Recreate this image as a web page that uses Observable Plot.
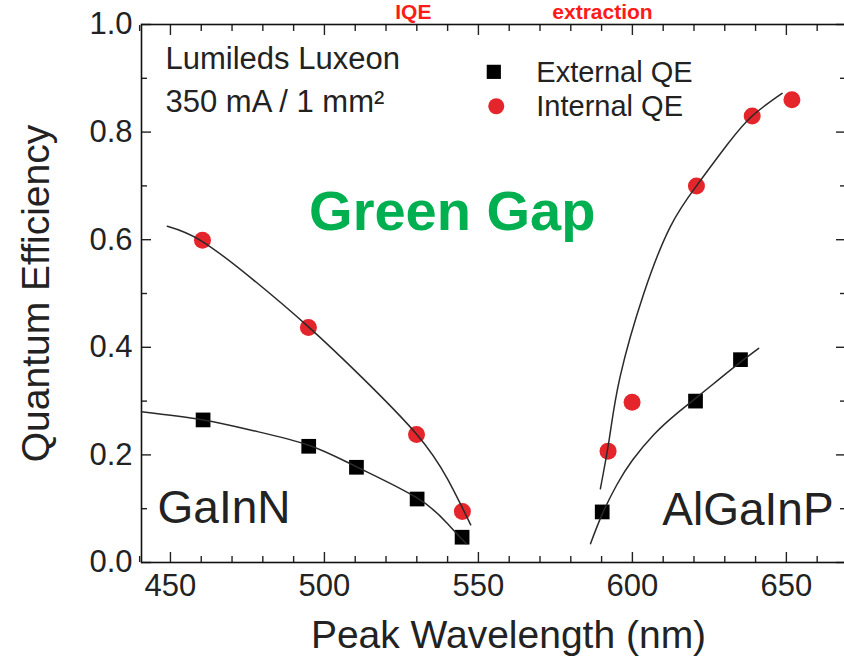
<!DOCTYPE html>
<html><head><meta charset="utf-8">
<script src="https://cdn.jsdelivr.net/npm/d3@7"></script>
<script src="https://cdn.jsdelivr.net/npm/@observablehq/plot@0.6"></script>
<style>html,body{margin:0;padding:0;overflow:hidden;background:#fff}</style>
</head><body><div id="chart"></div>
<script>
// ---- measured points (wavelength nm, quantum efficiency) ----
const gainnIqeWl = [460.4, 494.8, 529.9, 544.8];
const gainnIqeQe = [0.599, 0.437, 0.238, 0.095];
const gainnEqeWl = [460.6, 494.9, 510.4, 530.1, 544.7];
const gainnEqeQe = [0.265, 0.216, 0.177, 0.118, 0.047];
const algainpIqeWl = [592.1, 599.9, 620.8, 638.9, 651.8];
const algainpIqeQe = [0.207, 0.298, 0.700, 0.830, 0.860];
const algainpEqeWl = [590.2, 620.5, 635.1];
const algainpEqeQe = [0.094, 0.300, 0.377];

// ---- fitted guide curves ----
const fitGainnIqeWl = [449, 460, 477, 495, 512, 530, 540, 547.5];
const fitGainnIqeQe = [0.625, 0.598, 0.525, 0.437, 0.345, 0.238, 0.155, 0.070];
const fitGainnEqeWl = [440.6, 460.6, 477, 494.9, 510.4, 530.1, 540, 546];
const fitGainnEqeQe = [0.280, 0.265, 0.245, 0.218, 0.178, 0.120, 0.072, 0.035];
const fitAlgainpIqeWl = [589.6, 592.5, 596, 603.7, 612.3, 620.8, 630.7, 638.9, 648.6];
const fitAlgainpIqeQe = [0.137, 0.230, 0.345, 0.500, 0.624, 0.700, 0.776, 0.830, 0.872];
const fitAlgainpEqeWl = [586.4, 590.2, 595, 600, 607, 614, 620.5, 628, 635, 641];
const fitAlgainpEqeQe = [0.035, 0.090, 0.145, 0.190, 0.238, 0.275, 0.305, 0.340, 0.372, 0.398];

// ---- axes ----
const xTicks = [450, 500, 550, 600, 650];
const xMinorTicks = [440, 460, 470, 480, 490, 510, 520, 530, 540, 560, 570, 580, 590, 610, 620, 630, 640, 660];
const yTicks = [0, 0.2, 0.4, 0.6, 0.8, 1.0];
const yMinorTicks = [0.1, 0.3, 0.5, 0.7, 0.9];
const xTitle = "Peak Wavelength (nm)";
const yTitle = "Quantum Efficiency";

// ---- annotations (data coordinates) ----
const notes = [
  {text: "Lumileds Luxeon", x: 448.4, y: 0.917},
  {text: "350 mA / 1 mm²", x: 448.4, y: 0.837}
];
const materials = [
  {text: "GaInN", x: 445.8, y: 0.073},
  {text: "AlGaInP", x: 609.7, y: 0.069}
];
const gapLabel = [{text: "Green Gap", x: 541.5, y: 0.618}];
const topLabels = [
  {text: "IQE", x: 523.0, y: 1.01},
  {text: "extraction", x: 574.0, y: 1.01}
];
const legendItems = [
  {text: "External QE", symbol: "square", color: "#000000", x: 555.0, y: 0.912, tx: 568.8, ty: 0.893},
  {text: "Internal QE", symbol: "circle", color: "#e4252b", x: 555.8, y: 0.848, tx: 568.8, ty: 0.830}
];

const zip = (xs, ys) => xs.map((x, i) => ({x, y: ys[i]}));
const ink = "#222";
const font = "Liberation Sans, Arial, Helvetica, sans-serif";

const chart = Plot.plot({
  width: 846,
  height: 666,
  marginLeft: 141,
  marginRight: 1,
  marginTop: 24,
  marginBottom: 104,
  style: {fontFamily: font, color: ink, background: "#fff", maxWidth: "none", overflow: "visible"},
  x: {domain: [440.6, 669.2]},
  y: {domain: [0, 1]},
  marks: [
    // tick labels
    Plot.axisX(xTicks, {anchor: "bottom", tickSize: 0, tickPadding: 11, fontSize: 31, label: null}),
    Plot.axisY(yTicks, {anchor: "left", tickSize: 0, tickPadding: 9, fontSize: 31, tickFormat: d3.format(".1f"), label: null}),
    // inward ticks
    Plot.axisX(xTicks, {anchor: "bottom", tickSize: -10, strokeWidth: 1.4, fill: "none", label: null}),
    Plot.axisX(xMinorTicks, {anchor: "bottom", tickSize: -6, strokeWidth: 1.4, fill: "none", label: null}),
    Plot.axisX(xTicks, {anchor: "top", tickSize: -10, strokeWidth: 1.4, fill: "none", label: null}),
    Plot.axisX(xMinorTicks, {anchor: "top", tickSize: -6, strokeWidth: 1.4, fill: "none", label: null}),
    Plot.axisY(yTicks, {anchor: "left", tickSize: -10, strokeWidth: 1.4, fill: "none", label: null}),
    Plot.axisY(yMinorTicks, {anchor: "left", tickSize: -6, strokeWidth: 1.4, fill: "none", label: null}),
    Plot.axisY(yTicks, {anchor: "right", tickSize: -10, strokeWidth: 1.4, fill: "none", label: null}),
    Plot.axisY(yMinorTicks, {anchor: "right", tickSize: -6, strokeWidth: 1.4, fill: "none", label: null}),
    Plot.frame({stroke: "#111", strokeWidth: 1.6}),
    // axis titles
    Plot.text([xTitle], {frameAnchor: "bottom", dx: 15, dy: 85, lineAnchor: "bottom", fontSize: 39, fill: ink}),
    Plot.text([yTitle], {frameAnchor: "left", dx: -93, rotate: -90, textAnchor: "middle", lineAnchor: "bottom", fontSize: 39, fill: ink}),
    // data points
    Plot.dot(zip(gainnIqeWl, gainnIqeQe), {x: "x", y: "y", r: 8.5, fill: "#e4252b"}),
    Plot.dot(zip(algainpIqeWl, algainpIqeQe), {x: "x", y: "y", r: 8.5, fill: "#e4252b"}),
    Plot.dot(zip(gainnEqeWl, gainnEqeQe), {x: "x", y: "y", r: 8.3, symbol: "square", fill: "#000"}),
    Plot.dot(zip(algainpEqeWl, algainpEqeQe), {x: "x", y: "y", r: 8.3, symbol: "square", fill: "#000"}),
    // fit curves
    Plot.line(zip(fitGainnIqeWl, fitGainnIqeQe), {x: "x", y: "y", curve: "natural", stroke: "#2a2a2a", strokeWidth: 1.5}),
    Plot.line(zip(fitGainnEqeWl, fitGainnEqeQe), {x: "x", y: "y", curve: "natural", stroke: "#2a2a2a", strokeWidth: 1.5}),
    Plot.line(zip(fitAlgainpIqeWl, fitAlgainpIqeQe), {x: "x", y: "y", curve: "natural", stroke: "#2a2a2a", strokeWidth: 1.5}),
    Plot.line(zip(fitAlgainpEqeWl, fitAlgainpEqeQe), {x: "x", y: "y", curve: "natural", stroke: "#2a2a2a", strokeWidth: 1.5}),
    // legend
    Plot.dot(legendItems, {x: "x", y: "y", symbol: "symbol", fill: "color", r: 8}),
    Plot.text(legendItems, {x: "tx", y: "ty", text: "text", textAnchor: "start", lineAnchor: "bottom", fontSize: 29, fill: ink}),
    // annotations
    Plot.text(notes, {x: "x", y: "y", text: "text", textAnchor: "start", lineAnchor: "bottom", fontSize: 31, fill: ink}),
    Plot.text(materials, {x: "x", y: "y", text: "text", textAnchor: "start", lineAnchor: "bottom", fontSize: 46, fill: ink}),
    Plot.text(gapLabel, {x: "x", y: "y", text: "text", textAnchor: "middle", lineAnchor: "bottom", fontSize: 56, fontWeight: "bold", fill: "#00b050"}),
    Plot.text(topLabels, {x: "x", y: "y", text: "text", textAnchor: "start", lineAnchor: "bottom", fontSize: 21, fontWeight: "bold", fill: "#ff1a1a"})
  ]
});
document.getElementById("chart").appendChild(chart);
</script>
</body></html>
